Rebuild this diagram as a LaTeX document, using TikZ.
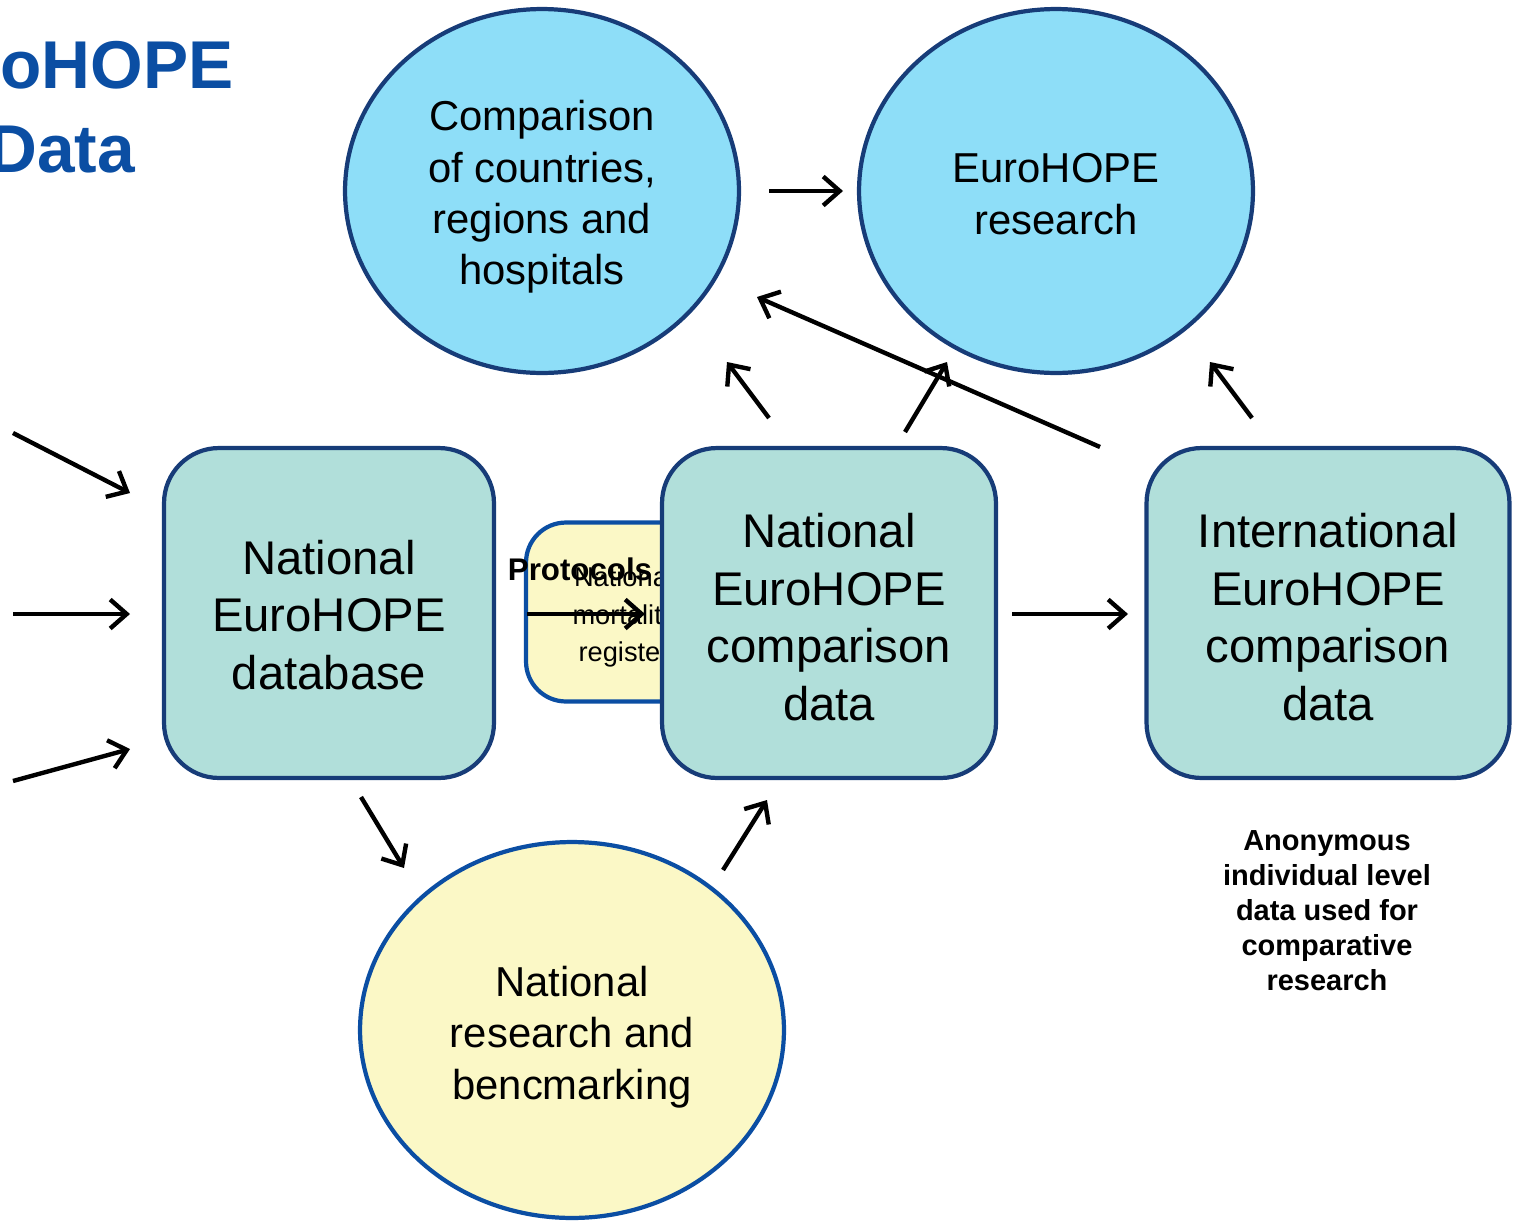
\documentclass[tikz,border=0pt]{standalone}
\usepackage{fontspec}
\setmainfont{Liberation Sans}
\usetikzlibrary{shapes.geometric,arrows.meta}
\definecolor{navy}{HTML}{173C78}
\definecolor{ltblue}{HTML}{8EDEF8}
\definecolor{teal}{HTML}{B1DFDA}
\definecolor{ylw}{HTML}{FBF8C6}
\definecolor{royal}{HTML}{0B4EA3}
\tikzset{
  bubble/.style={ellipse, draw=navy, fill=ltblue, line width=2.4pt, inner sep=0pt, align=center,
     font=\fontsize{23.8}{29.2}\selectfont},
  tbox/.style={rectangle, rounded corners=1.1cm, draw=navy, fill=teal, line width=2.4pt, inner sep=0pt,
     align=center, minimum height=6.6cm, font=\fontsize{26.9}{32.9}\selectfont},
  arr/.style={line width=2.5pt, -{Straight Barb[length=3.3mm,width=5.8mm]}},
}
\begin{document}
\begin{tikzpicture}[x=0.02cm,y=-0.02cm]
\useasboundingbox (0,0) rectangle (1515,1221);
% title
\node[anchor=base west, inner sep=0pt, text=royal, font=\bfseries\fontsize{38.5}{46}\selectfont] (t1) at (0,88) {oHOPE};
\node[anchor=base west, inner sep=0pt, text=royal, font=\bfseries\fontsize{38.5}{46}\selectfont] (t2) at (-12,172) {Data};
% ellipses
\node[bubble, minimum width=7.88cm, minimum height=7.28cm] (cmp) at (542,191) {};
\node[align=center, inner sep=0pt, font=\fontsize{23.8}{29.2}\selectfont] (cmpt) at (542,197) {Comparison\\of countries,\\regions and\\hospitals};
\node[bubble, minimum width=7.88cm, minimum height=7.28cm] (res) at (1056,191) {};
\node[align=center, inner sep=0pt, font=\fontsize{23.8}{29.5}\selectfont] (rest) at (1056,194) {EuroHOPE\\research};
\node[ellipse, draw=royal, fill=ylw, line width=2.4pt, inner sep=0pt,
     minimum width=8.48cm, minimum height=7.52cm] (nrb) at (572,1030) {};
\node[align=center, inner sep=0pt, font=\fontsize{23.8}{29.2}\selectfont] (nrbt) at (572,1037) {National\\research and\\bencmarking};
% yellow register box
\node[rectangle, rounded corners=0.8cm, draw=royal, fill=ylw, line width=2.4pt, inner sep=0pt,
     minimum width=3.88cm, minimum height=3.58cm] (reg) at (623,612) {};
\node[align=center, inner sep=0pt, font=\fontsize{15.5}{21.5}\selectfont] (regt) at (624,617) {National\\mortality\\register};
\node[inner sep=0pt, font=\bfseries\fontsize{17.8}{20}\selectfont] (prot) at (580,569) {Protocols};
\coordinate (p1) at (527,614);
\coordinate (p2) at (645,614);
\draw[arr] (p1) -- (p2);
% boxes
\node[tbox, minimum width=6.6cm] (db) at (329,613) {};
\node[align=center, inner sep=0pt, font=\fontsize{26.9}{32.9}\selectfont] (dbt) at (329,615) {National\\EuroHOPE\\database};
\node[tbox, minimum width=6.68cm] (ncd) at (829,613) {};
\node[align=center, inner sep=0pt, font=\fontsize{26.9}{32.9}\selectfont] (ncdt) at (829,617) {National\\EuroHOPE\\comparison\\data};
\node[tbox, minimum width=7.26cm] (icd) at (1328,613) {};
\node[align=center, inner sep=0pt, font=\fontsize{26.9}{32.9}\selectfont] (icdt) at (1328,617) {International\\EuroHOPE\\comparison\\data};
% note
\node[align=center, inner sep=0pt, font=\bfseries\fontsize{16.5}{19.9}\selectfont] (note) at (1327,911) {Anonymous\\individual level\\data used for\\comparative\\research};
% arrow coordinates
\coordinate (a1s) at (13,433);  \coordinate (a1e) at (130,493);
\coordinate (a2s) at (13,614);  \coordinate (a2e) at (130,614);
\coordinate (a3s) at (13,781);  \coordinate (a3e) at (130,749);
\coordinate (a5s) at (1012,614); \coordinate (a5e) at (1128,614);
\coordinate (a6s) at (769,191); \coordinate (a6e) at (843,191);
\coordinate (a7s) at (769,418); \coordinate (a7e) at (727,362);
\coordinate (a8s) at (905,432); \coordinate (a8e) at (947,362);
\coordinate (a9s) at (1100,447); \coordinate (a9e) at (757,297);
\coordinate (a10s) at (1252,418); \coordinate (a10e) at (1210,362);
\coordinate (a11s) at (361,797); \coordinate (a11e) at (404,868);
\coordinate (a12s) at (723,870); \coordinate (a12e) at (767,800);
\draw[arr] (a1s) -- (a1e);
\draw[arr] (a2s) -- (a2e);
\draw[arr] (a3s) -- (a3e);
\draw[arr] (a5s) -- (a5e);
\draw[arr] (a6s) -- (a6e);
\draw[arr] (a7s) -- (a7e);
\draw[arr] (a9s) -- (a9e);
\draw[arr] (a8s) -- (a8e);
\draw[arr] (a10s) -- (a10e);
\draw[arr] (a11s) -- (a11e);
\draw[arr] (a12s) -- (a12e);
\end{tikzpicture}
\end{document}
